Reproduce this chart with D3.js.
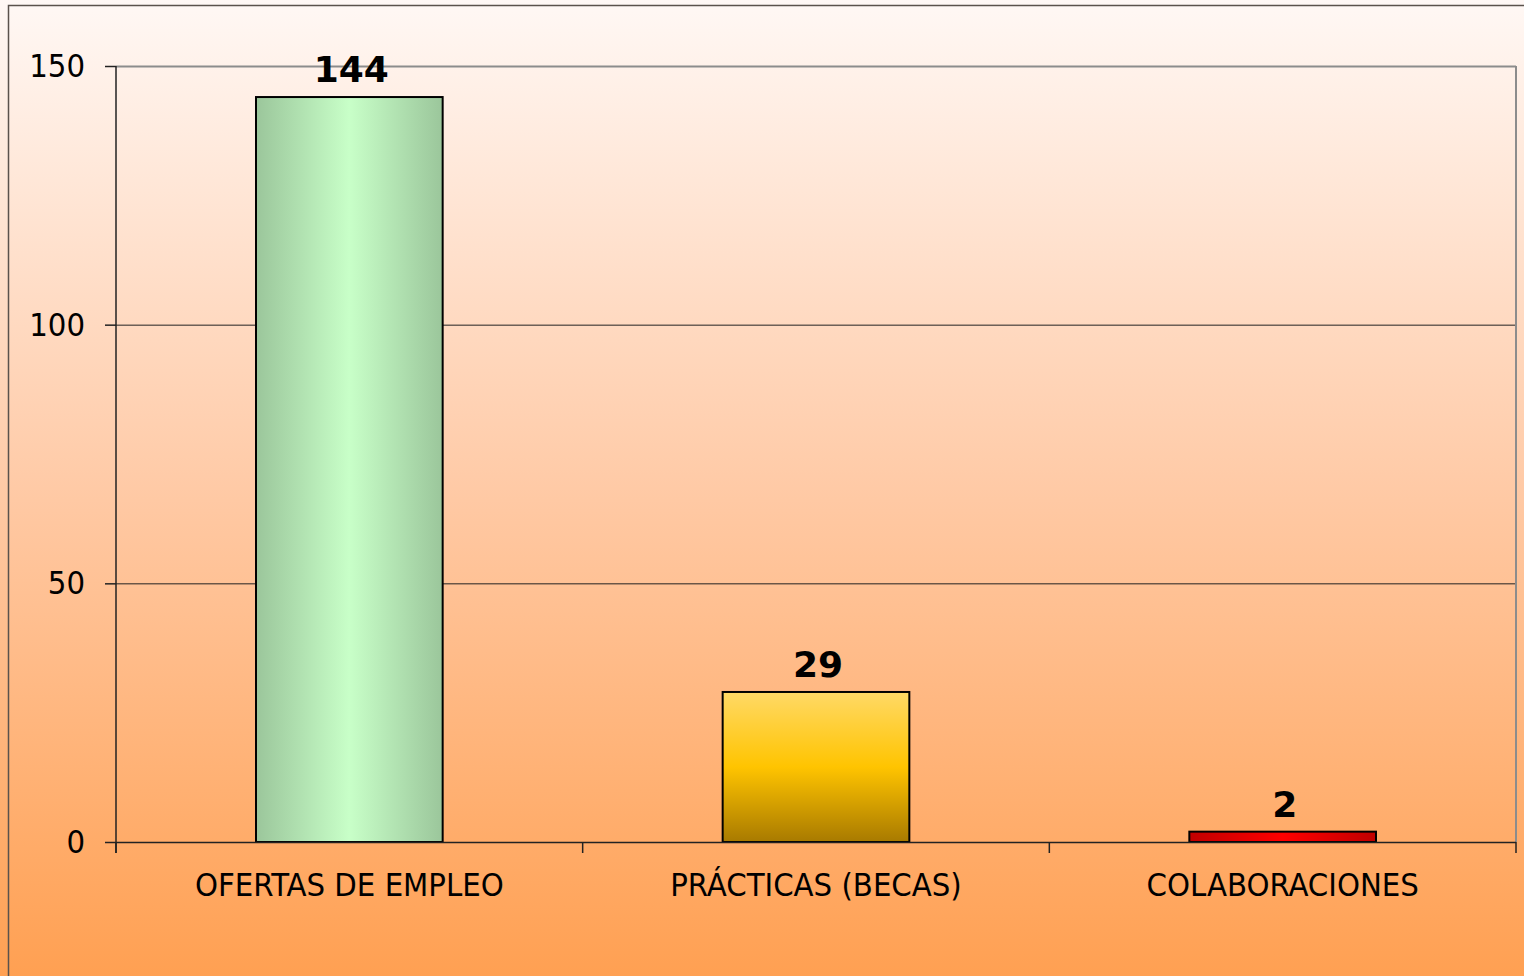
<!DOCTYPE html>
<html>
<head>
<meta charset="utf-8">
<script src="https://cdn.jsdelivr.net/npm/d3@7"></script>
<style>
  body { margin: 0; overflow: hidden; }
</style>
</head>
<body>
<script>
// Define data
let categories = ['OFERTAS DE EMPLEO', 'PRÁCTICAS (BECAS)', 'COLABORACIONES'];
let values = [144, 29, 2];
let yTicks = [0, 50, 100, 150];

let width = 1524,
    height = 976;

let margin = { top: 66, bottom: 134, left: 116, right: 8 };

let svg = d3.select('body')
  .append('svg')
  .attr('width', width)
  .attr('height', height);

let defs = svg.append('defs');

// background gradient
let bg = defs.append('linearGradient').attr('id', 'bg')
  .attr('x1', 0).attr('y1', 0).attr('x2', 0).attr('y2', 1);
bg.append('stop').attr('offset', '0%').attr('stop-color', '#fff8f5');
bg.append('stop').attr('offset', '50%').attr('stop-color', '#ffcaa6');
bg.append('stop').attr('offset', '100%').attr('stop-color', '#ffa052');

// bar gradients
let g1 = defs.append('linearGradient').attr('id', 'green')
  .attr('x1', 0).attr('y1', 0).attr('x2', 1).attr('y2', 0);
g1.append('stop').attr('offset', '0%').attr('stop-color', '#9bc69b');
g1.append('stop').attr('offset', '50%').attr('stop-color', '#c8ffc8');
g1.append('stop').attr('offset', '100%').attr('stop-color', '#9bc69b');

let g2 = defs.append('linearGradient').attr('id', 'yellow')
  .attr('x1', 0).attr('y1', 0).attr('x2', 0).attr('y2', 1);
g2.append('stop').attr('offset', '0%').attr('stop-color', '#ffd966');
g2.append('stop').attr('offset', '50%').attr('stop-color', '#ffc400');
g2.append('stop').attr('offset', '100%').attr('stop-color', '#a87a00');

let g3 = defs.append('linearGradient').attr('id', 'red')
  .attr('x1', 0).attr('y1', 0).attr('x2', 1).attr('y2', 0);
g3.append('stop').attr('offset', '0%').attr('stop-color', '#c00000');
g3.append('stop').attr('offset', '50%').attr('stop-color', '#ff0000');
g3.append('stop').attr('offset', '100%').attr('stop-color', '#c00000');

let fills = ['url(#green)', 'url(#yellow)', 'url(#red)'];

svg.append('rect')
  .attr('width', width).attr('height', height)
  .attr('fill', 'url(#bg)');

// outer chart border
svg.append('rect')
  .attr('x', 8.5).attr('y', 5.5)
  .attr('width', width + 20).attr('height', height + 20)
  .attr('fill', 'none')
  .attr('stroke', '#5a524c')
  .attr('stroke-width', 1.5);

// scales
let yScale = d3.scaleLinear()
  .domain([0, 150])
  .range([height - margin.bottom, margin.top]);

let xScale = d3.scaleBand()
  .domain(categories)
  .range([margin.left, width - margin.right])
  .paddingInner(0.6)
  .paddingOuter(0.3);

let xTickScale = d3.scaleBand()
  .domain(categories)
  .range([margin.left, width - margin.right]);

// gridlines
svg.append('g')
  .selectAll('line')
  .data(yTicks.filter(d => d > 0))
  .enter()
  .append('line')
  .attr('x1', margin.left)
  .attr('x2', width - margin.right)
  .attr('y1', d => yScale(d) + 0.5)
  .attr('y2', d => yScale(d) + 0.5)
  .attr('stroke', d => d === 150 ? '#8c8c8c' : '#222')
  .attr('stroke-width', d => d === 150 ? 2 : 1);

// right side of plot area
svg.append('line')
  .attr('x1', width - margin.right).attr('x2', width - margin.right)
  .attr('y1', yScale(150)).attr('y2', yScale(0))
  .attr('stroke', '#8c8c8c')
  .attr('stroke-width', 2);

// bars
svg.selectAll('.bar')
  .data(values)
  .enter()
  .append('rect')
  .attr('class', 'bar')
  .attr('x', (d, i) => xScale(categories[i]))
  .attr('y', d => yScale(d))
  .attr('width', xScale.bandwidth())
  .attr('height', d => yScale(0) - yScale(d))
  .attr('fill', (d, i) => fills[i])
  .attr('stroke', '#000')
  .attr('stroke-width', 2);

// y axis
let yAxis = svg.append('g')
  .attr('transform', `translate(${margin.left},0)`)
  .call(d3.axisLeft(yScale).tickValues(yTicks).tickSize(11).tickPadding(20));

// x axis
let xAxis = svg.append('g')
  .attr('transform', `translate(0,${yScale(0)})`)
  .call(d3.axisBottom(xScale).tickSize(0).tickPadding(31));

xAxis.select('.domain').remove();
svg.append('line')
  .attr('x1', margin.left).attr('x2', width - margin.right)
  .attr('y1', yScale(0) + 0.5).attr('y2', yScale(0) + 0.5)
  .attr('stroke', '#222').attr('stroke-width', 1.5);

// x tick marks at category boundaries
let bounds = categories.map(c => xTickScale(c)).concat([width - margin.right]);
svg.append('g')
  .selectAll('line')
  .data(bounds)
  .enter()
  .append('line')
  .attr('x1', d => d).attr('x2', d => d)
  .attr('y1', yScale(0)).attr('y2', yScale(0) + 11)
  .attr('stroke', '#222').attr('stroke-width', 1.5);

yAxis.select('.domain').attr('stroke', '#222').attr('stroke-width', 1.5)
  .attr('d', `M0,${yScale(150)}V${yScale(0) + 11}`);
yAxis.selectAll('.tick line').attr('stroke', '#222').attr('stroke-width', 1.5);

svg.selectAll('.tick text')
  .style('font-family', '"DejaVu Sans Condensed", "DejaVu Sans", sans-serif')
  .style('font-size', '32.5px')
  .style('fill', '#000');

// value labels
svg.selectAll('.bar-label')
  .data(values)
  .enter()
  .append('text')
  .attr('class', 'bar-label')
  .attr('x', (d, i) => xScale(categories[i]) + xScale.bandwidth() / 2 + 2)
  .attr('y', d => yScale(d) - 15)
  .text(d => d)
  .attr('text-anchor', 'middle')
  .style('font-family', '"DejaVu Sans", sans-serif')
  .style('font-weight', 'bold')
  .style('font-size', '36px')
  .style('fill', '#000');
</script>
</body>
</html>
